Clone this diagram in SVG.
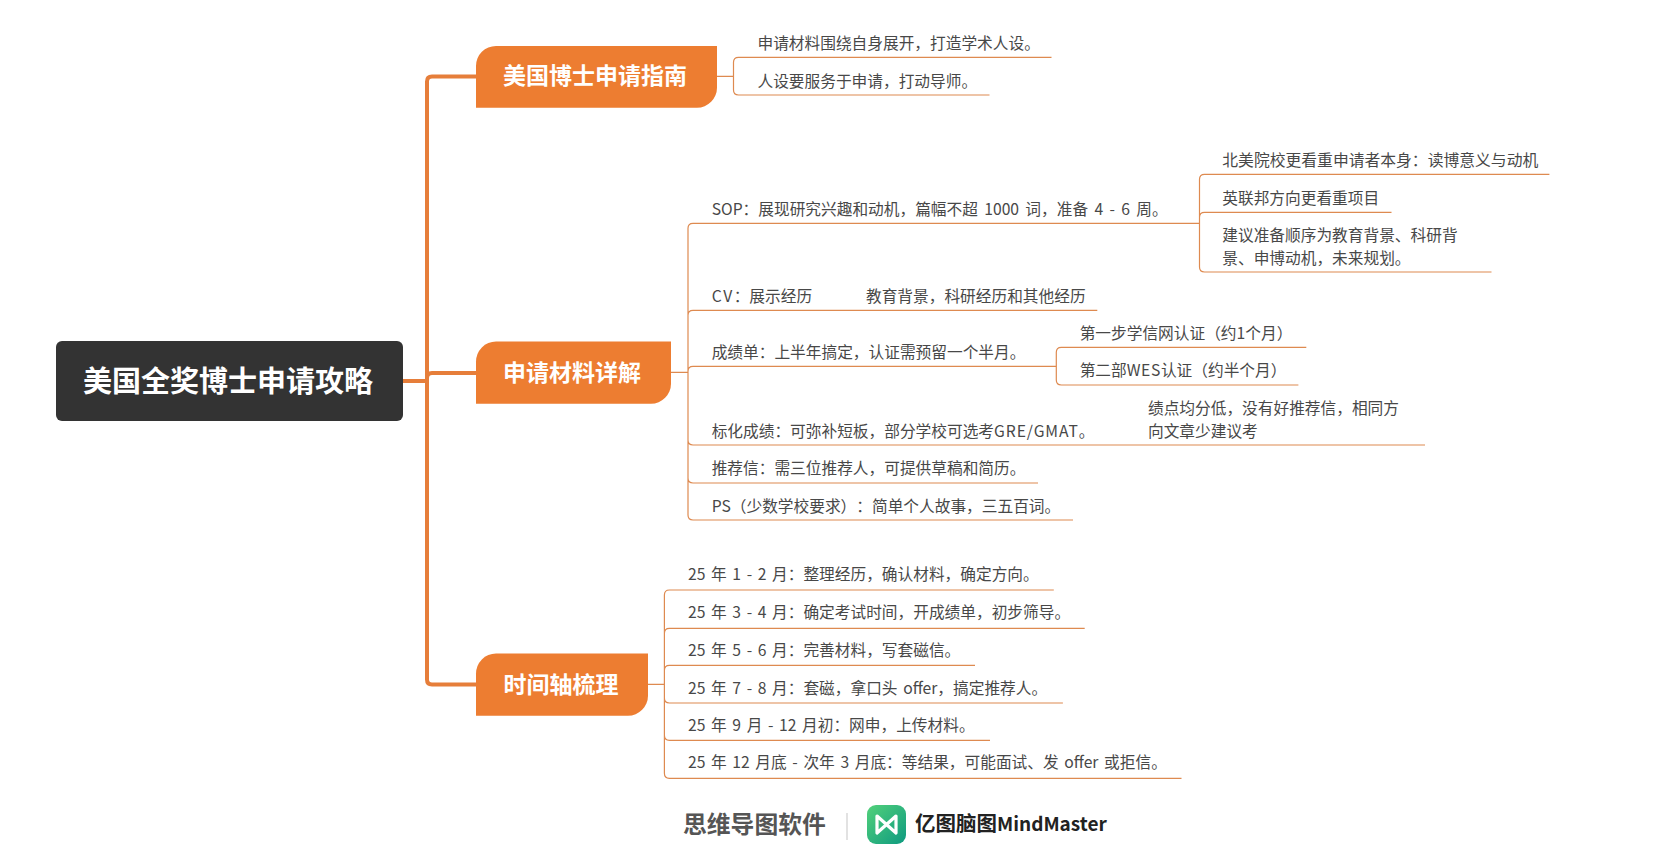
<svg xmlns="http://www.w3.org/2000/svg" width="1668" height="860" viewBox="0 0 1668 860">
<style>
text{font-family:"Noto Sans CJK SC","Liberation Sans",sans-serif;text-spacing-trim:space-all}
.t{font-size:15.7px;fill:#484848}
.w{word-spacing:2.1px}
.h{font-size:23px;font-weight:700;fill:#fff;text-anchor:middle}
.m{fill:#ED7D31}
.c1{fill:none;stroke:#E67E3A;stroke-width:4}
.c2{fill:none;stroke:#DE8A50;stroke-width:1.2}
</style>
<defs><linearGradient id="g" x1="0" y1="0" x2="1" y2="1"><stop offset="0" stop-color="#52D17A"/><stop offset="1" stop-color="#0E9A80"/></linearGradient></defs>
<rect width="1668" height="860" fill="#fff"/>
<g id="connectors">
<path class="c1" d="M403 381H427M427 381V81.5Q427 76.5 432 76.5H476M427 381V378Q427 373 432 373H476M427 381V679.5Q427 684.5 432 684.5H476"/>
<path class="c2" d="M717 76.3H733.5M733.5 76.3V62.3Q733.5 57.3 738.5 57.3H1051.5M733.5 76.3V90Q733.5 95 738.5 95H989.5"/>
<path class="c2" d="M671 372.3H688M688 372.3V228.3Q688 223.3 693 223.3H1199.5M688 372.3V315.3Q688 310.3 693 310.3H1097.3M688 372.3V371.3Q688 366.3 693 366.3H1056.3M688 372.3V440Q688 445 693 445H1425M688 372.3V478Q688 483 693 483H1038M688 372.3V515Q688 520 693 520H1073"/>
<path class="c2" d="M1199.5 223.3V179.3Q1199.5 174.3 1204.5 174.3H1549.4M1199.5 223.3V217.3Q1199.5 212.3 1204.5 212.3H1391.5M1199.5 223.3V267Q1199.5 272 1204.5 272H1491.5"/>
<path class="c2" d="M1056.3 366.3V352.3Q1056.3 347.3 1061.3 347.3H1306.3M1056.3 366.3V380Q1056.3 385 1061.3 385H1298.4"/>
<path class="c2" d="M648 684.3H664.4M664.4 684.3V595Q664.4 590 669.4 590H1053.8M664.4 684.3V633.3Q664.4 628.3 669.4 628.3H1084.7M664.4 684.3V670.3Q664.4 665.3 669.4 665.3H975M664.4 684.3V698Q664.4 703 669.4 703H1062.9M664.4 684.3V735.3Q664.4 740.3 669.4 740.3H990M664.4 684.3V773.3Q664.4 778.3 669.4 778.3H1181.5"/>
</g>
<g id="root"><rect x="56" y="341" width="347" height="80" rx="6" fill="#333"/><text x="228" y="391.5" font-size="29" font-weight="700" fill="#fff" text-anchor="middle">美国全奖博士申请攻略</text></g>
<g id="n1"><path class="m" d="M496 46H717V87.7A20 20 0 0 1 697 107.7H476V66A20 20 0 0 1 496 46Z"/><text class="h" x="595" y="84">美国博士申请指南</text></g>
<g id="n2"><path class="m" d="M496 341.6H671V383.7A20 20 0 0 1 651 403.7H476V361.6A20 20 0 0 1 496 341.6Z"/><text class="h" x="572" y="380.5">申请材料详解</text></g>
<g id="n3"><path class="m" d="M496 653.6H648V695.7A20 20 0 0 1 628 715.7H476V673.6A20 20 0 0 1 496 653.6Z"/><text class="h" x="561" y="693">时间轴梳理</text></g>
<g id="a1"><text class="t" x="757.5" y="49">申请材料围绕自身展开，打造学术人设。</text></g>
<g id="a2"><text class="t" x="757.5" y="86.5">人设要服务于申请，打动导师。</text></g>
<g id="b1"><text class="t" x="711.7" y="214.5" style="word-spacing:2.8px">SOP：展现研究兴趣和动机，篇幅不超 1000 词，准备 4 - 6 周。</text></g>
<g id="b1a"><text class="t" x="1222.3" y="165.5" style="font-size:15.8px">北美院校更看重申请者本身：读博意义与动机</text></g>
<g id="b1b"><text class="t" x="1222.3" y="203.5">英联邦方向更看重项目</text></g>
<g id="b1c"><text class="t" x="1222.3" y="240.5">建议准备顺序为教育背景、科研背</text><text class="t" x="1222.3" y="263.5">景、申博动机，未来规划。</text></g>
<g id="b2"><text class="t" x="711.7" y="302"><tspan letter-spacing="1.5">CV</tspan>：展示经历</text></g>
<g id="b2a"><text class="t" x="866" y="302">教育背景，科研经历和其他经历</text></g>
<g id="b3"><text class="t" x="711.7" y="358">成绩单：上半年搞定，认证需预留一个半月。</text></g>
<g id="b3a"><text class="t" x="1079.7" y="339">第一步学信网认证（约1个月）</text></g>
<g id="b3b"><text class="t" x="1079.7" y="376">第二部<tspan letter-spacing="0.6">WES</tspan>认证（约半个月）</text></g>
<g id="b4"><text class="t" x="711.7" y="436.5">标化成绩：可弥补短板，部分学校可选考<tspan letter-spacing="0.9">GRE/GMAT</tspan>。</text></g>
<g id="b4a"><text class="t" x="1148" y="414">绩点均分低，没有好推荐信，相同方</text><text class="t" x="1148" y="437">向文章少建议考</text></g>
<g id="b5"><text class="t" x="711.7" y="474">推荐信：需三位推荐人，可提供草稿和简历。</text></g>
<g id="b6"><text class="t" x="711.7" y="511.5">PS（少数学校要求）：简单个人故事，三五百词。</text></g>
<g id="c1"><text class="t w" x="688" y="580">25 年 1 - 2 月：整理经历，确认材料，确定方向。</text></g>
<g id="c2"><text class="t w" x="688" y="618">25 年 3 - 4 月：确定考试时间，开成绩单，初步筛导。</text></g>
<g id="c3"><text class="t w" x="688" y="656">25 年 5 - 6 月：完善材料，写套磁信。</text></g>
<g id="c4"><text class="t w" x="688" y="694">25 年 7 - 8 月：套磁，拿口头 offer，搞定推荐人。</text></g>
<g id="c5"><text class="t w" x="688" y="731">25 年 9 月 - 12 月初：网申，上传材料。</text></g>
<g id="c6"><text class="t w" x="688" y="768">25 年 12 月底 - 次年 3 月底：等结果，可能面试、发 offer 或拒信。</text></g>
<g id="watermark">
<text x="683" y="833" font-size="23.8" font-weight="700" fill="#555">思维导图软件</text>
<rect x="846" y="813" width="2" height="27" fill="#E2E2E2"/>
<rect x="867" y="805" width="39" height="39" rx="9" fill="url(#g)"/>
<path d="M877 816L896 833V816L877 833Z" fill="none" stroke="#fff" stroke-width="3.2" stroke-linejoin="round"/>
<text x="915" y="831" font-size="20.5" font-weight="700" fill="#222">亿图脑图<tspan font-size="19">MindMaster</tspan></text>
</g>
</svg>
